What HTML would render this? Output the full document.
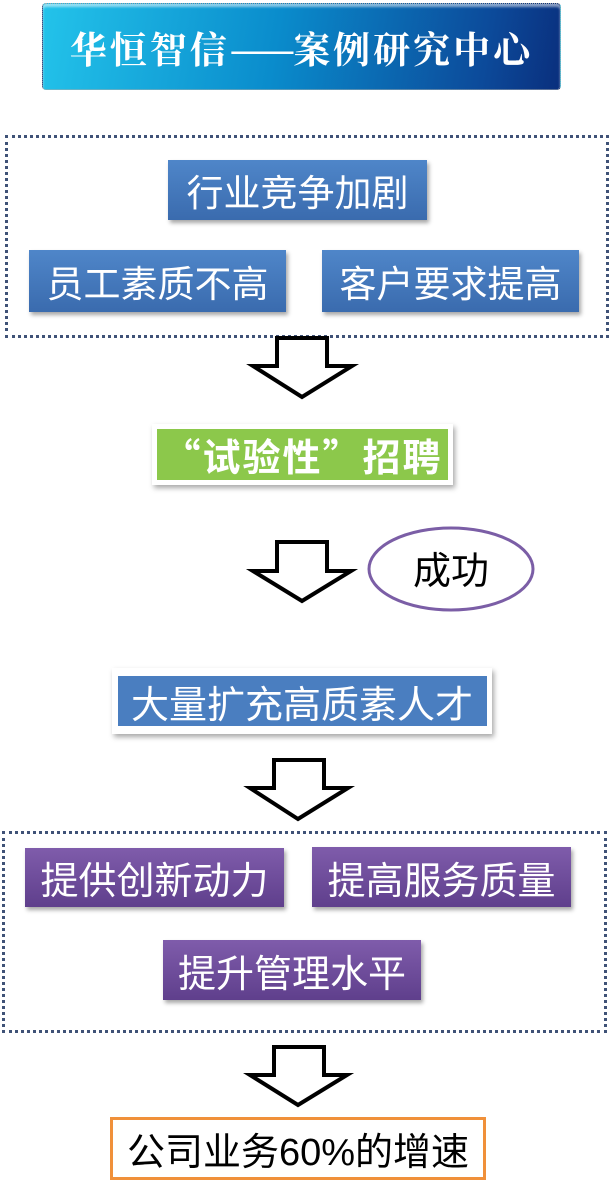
<!DOCTYPE html>
<html><head><meta charset="utf-8"><style>
body{margin:0;width:611px;height:1194px;background:#fff;position:relative;overflow:hidden;font-family:"Liberation Sans","Noto Sans CJK SC",sans-serif}
.a{position:absolute;box-sizing:border-box;display:flex;align-items:center;justify-content:center;white-space:nowrap}
.blue{background:linear-gradient(#4f86c9,#3a6bae);color:#fff;font-size:37px;box-shadow:2px 3px 4px rgba(0,0,0,.35)}
.pur{background:linear-gradient(#7f5cab,#5f3f8c);color:#fff;font-size:38px;box-shadow:2px 3px 4px rgba(0,0,0,.35)}
.dot{position:absolute;box-sizing:border-box;border:3px dotted #3f5277}
</style></head><body>
<div class="a" style="left:42px;top:3px;width:519px;height:87px;border:1px dotted #aaa;border-radius:4px;background:linear-gradient(100deg,#23c3ea 0%,#0a8ccc 45%,#0c4a9a 85%,#0a2f7d 100%);color:#fff;font-family:'Noto Serif CJK SC',serif;font-weight:bold;font-size:37px;letter-spacing:3px;box-shadow:inset 0 3px 2px rgba(255,255,255,.5)">华恒智信<span style="letter-spacing:-2px">——</span>案例研究中心</div>

<div class="dot" style="left:5px;top:135px;width:604px;height:203px"></div>
<div class="a blue" style="left:168px;top:160px;width:259px;height:60px">行业竞争加剧</div>
<div class="a blue" style="left:29px;top:250px;width:257px;height:62px">员工素质不高</div>
<div class="a blue" style="left:322px;top:250px;width:257px;height:62px">客户要求提高</div>

<svg style="position:absolute;left:0;top:0" width="611" height="1194">
<g fill="#fff" stroke="#000" stroke-width="4" stroke-linejoin="miter">
<polygon points="277,338 327,338 327,366 352,366 302,397 253,366 277,366"/>
<polygon points="277,542 327,542 327,571 351,571 302,601 253,571 277,571"/>
<polygon points="274,760 324,760 324,788 348,788 298,819 250,788 274,788"/>
<polygon points="274,1047 324,1047 324,1075 347,1075 298,1105 250,1075 274,1075"/>
</g>
<ellipse cx="451" cy="569" rx="82" ry="41" fill="#fff" stroke="#7b5ea6" stroke-width="3"/>
<text x="451" y="584" text-anchor="middle" font-size="38" font-family="Liberation Sans,Noto Sans CJK SC,sans-serif">成功</text>
</svg>

<div class="a" style="left:152px;top:424px;width:301px;height:61px;background:#fff;box-shadow:2px 3px 5px rgba(0,0,0,.35)"><div class="a" style="position:static;width:291px;height:51px;background:#8cc84b;color:#fff;font-weight:bold;font-size:38px;letter-spacing:2px;font-family:'Noto Sans CJK SC',sans-serif">“试验性”招聘</div></div>

<div class="a" style="left:112px;top:668px;width:380px;height:66px;background:#fff;box-shadow:2px 3px 5px rgba(0,0,0,.35)"><div class="a" style="position:static;width:369px;height:50px;background:#4a7ec0;color:#fff;font-size:38px">大量扩充高质素人才</div></div>

<div class="dot" style="left:2px;top:831px;width:605px;height:202px"></div>
<div class="a pur" style="left:25px;top:848px;width:259px;height:59px">提供创新动力</div>
<div class="a pur" style="left:312px;top:847px;width:259px;height:60px">提高服务质量</div>
<div class="a pur" style="left:163px;top:940px;width:258px;height:60px">提升管理水平</div>

<div class="a" style="left:110px;top:1117px;width:376px;height:63px;border:3px solid #f0903a;font-size:38px;color:#000">公司业务60%的增速</div>
</body></html>
